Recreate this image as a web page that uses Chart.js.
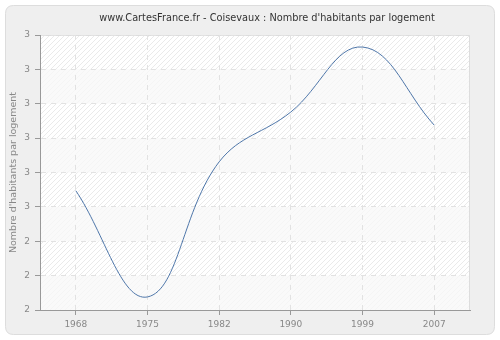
<!DOCTYPE html>
<html>
<head>
<meta charset="utf-8">
<script src="https://cdn.jsdelivr.net/npm/chart.js@4"></script>
<style>
  html, body { margin: 0; padding: 0; background: #ffffff; }
  #wrap { width: 500px; height: 340px; position: relative; }
</style>
</head>
<body>
<div id="wrap"><canvas id="c" width="500" height="340"></canvas></div>
<script>
const years = ['1968', '1975', '1982', '1990', '1999', '2007'];
const habitantsParLogement = [2.547, 2.238, 2.631, 2.776, 2.965, 2.738];
const chartTitle = "www.CartesFrance.fr - Coisevaux : Nombre d'habitants par logement";
const yAxisTitle = "Nombre d'habitants par logement";
const yMin = 2.2, yMax = 3.0, yStep = 0.1;

function makeHatch() {
  const p = document.createElement('canvas');
  p.width = 5; p.height = 5;
  const g = p.getContext('2d');
  g.fillStyle = '#ffffff';
  g.fillRect(0, 0, 5, 5);
  g.strokeStyle = '#e4e4e4';
  g.lineWidth = 0.8;
  g.beginPath();
  g.moveTo(0, 5); g.lineTo(5, 0);
  g.moveTo(-1, 1); g.lineTo(1, -1);
  g.moveTo(4, 6); g.lineTo(6, 4);
  g.stroke();
  return p;
}

const backgroundPlugin = {
  id: 'panelBg',
  beforeDraw(chart) {
    const ctx = chart.ctx;
    const w = chart.width, h = chart.height;
    ctx.save();
    ctx.fillStyle = '#ffffff';
    ctx.fillRect(0, 0, w, h);
    const x = 5.5, y = 5.5, pw = w - 11, ph = h - 11, r = 8;
    ctx.beginPath();
    ctx.moveTo(x + r, y);
    ctx.lineTo(x + pw - r, y);
    ctx.quadraticCurveTo(x + pw, y, x + pw, y + r);
    ctx.lineTo(x + pw, y + ph - r);
    ctx.quadraticCurveTo(x + pw, y + ph, x + pw - r, y + ph);
    ctx.lineTo(x + r, y + ph);
    ctx.quadraticCurveTo(x, y + ph, x, y + ph - r);
    ctx.lineTo(x, y + r);
    ctx.quadraticCurveTo(x, y, x + r, y);
    ctx.closePath();
    ctx.fillStyle = '#efefef';
    ctx.fill();
    ctx.strokeStyle = '#dddddd';
    ctx.lineWidth = 1;
    ctx.stroke();

    const a = chart.chartArea;
    ctx.fillStyle = ctx.createPattern(makeHatch(), 'repeat');
    ctx.fillRect(a.left, a.top, a.right - a.left, a.bottom - a.top);
    const ys = chart.scales.y;
    const ticks = ys.ticks;
    ctx.fillStyle = 'rgba(248,248,248,0.75)';
    for (let i = 0; i < ticks.length - 1; i++) {
      const idxFromTop = ticks.length - 2 - i;
      if (idxFromTop % 2 === 1) {
        const y1 = ys.getPixelForValue(ticks[i + 1].value);
        const y0 = ys.getPixelForValue(ticks[i].value);
        ctx.fillRect(a.left, y1, a.right - a.left, y0 - y1);
      }
    }
    ctx.strokeStyle = '#dddddd';
    ctx.beginPath();
    ctx.moveTo(a.left, a.top + 0.5);
    ctx.lineTo(a.right - 0.5, a.top + 0.5);
    ctx.lineTo(a.right - 0.5, a.bottom);
    ctx.stroke();

    ctx.fillStyle = '#333333';
    ctx.font = '9.75px "DejaVu Sans"';
    ctx.textAlign = 'center';
    ctx.textBaseline = 'middle';
    ctx.fillText(chartTitle, 267, 18);
    ctx.restore();
  }
};

new Chart(document.getElementById('c'), {
  type: 'line',
  data: {
    labels: years,
    datasets: [{
      data: habitantsParLogement,
      borderColor: '#4f77aa',
      borderWidth: 1,
      pointRadius: 0,
      fill: false,
      tension: 0.4
    }]
  },
  options: {
    responsive: false,
    animation: false,
    devicePixelRatio: 1,
    layout: { padding: { top: 35, right: 30, left: 0, bottom: 0 } },
    plugins: { legend: { display: false }, tooltip: { enabled: false }, title: { display: false } },
    scales: {
      x: {
        type: 'category',
        offset: true,
        grid: {
          color: '#e2e2e2',
          lineWidth: 1,
          tickLength: 5,
          tickColor: '#999999',
          offset: false
        },
        border: { color: '#999999', width: 1, dash: [5, 5] },
        ticks: {
          color: '#888888',
          font: { family: 'DejaVu Sans', size: 9 },
          padding: 4,
          maxRotation: 0
        },
        afterFit(s) { s.height = 30; }
      },
      y: {
        min: yMin,
        max: yMax,
        grid: {
          color: '#e2e2e2',
          lineWidth: 1,
          tickLength: 5,
          tickColor: '#999999'
        },
        border: { color: '#999999', width: 1, dash: [5, 5] },
        ticks: {
          stepSize: yStep,
          color: '#888888',
          font: { family: 'DejaVu Sans', size: 9 },
          padding: 5,
          callback: (v) => Math.round(v).toString()
        },
        title: {
          display: true,
          text: yAxisTitle,
          color: '#888888',
          font: { family: 'DejaVu Sans', size: 9.5 },
          padding: { top: 8, bottom: 0 }
        },
        afterFit(s) { s.width = 40; }
      }
    }
  },
  plugins: [backgroundPlugin]
});
</script>
</body>
</html>
